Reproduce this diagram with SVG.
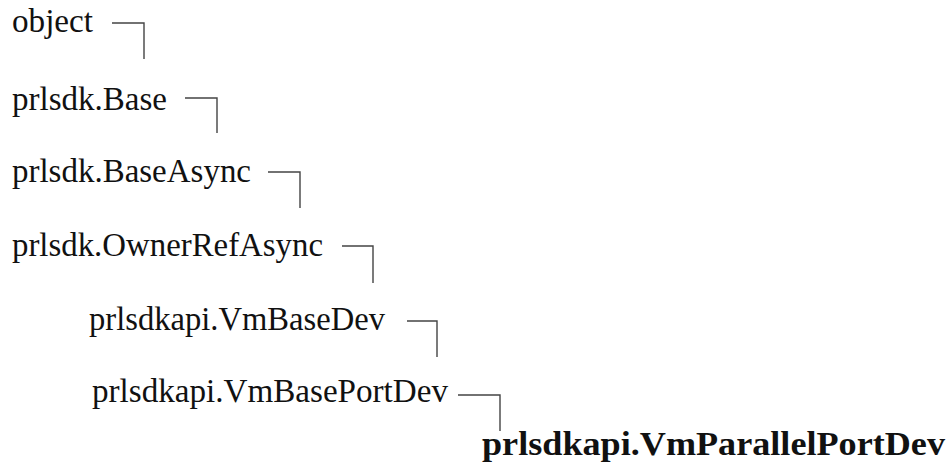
<svg xmlns="http://www.w3.org/2000/svg" width="948" height="466" viewBox="0 0 948 466">
<style>
.t{font-family:"Liberation Serif","Times New Roman",serif;font-size:33px;fill:#111}
.b{font-weight:bold}
.c{fill:none;stroke:#444;stroke-width:1.4}
</style>
<rect width="948" height="466" fill="#fff"/>
<g id="n-object"><text class="t" x="12" y="32" textLength="81" lengthAdjust="spacingAndGlyphs">object</text></g>
<g id="n-base"><text class="t" x="12" y="110" textLength="155" lengthAdjust="spacingAndGlyphs">prlsdk.Base</text></g>
<g id="n-baseasync"><text class="t" x="12" y="182" textLength="239" lengthAdjust="spacingAndGlyphs">prlsdk.BaseAsync</text></g>
<g id="n-ownerrefasync"><text class="t" x="12" y="256" textLength="311" lengthAdjust="spacingAndGlyphs">prlsdk.OwnerRefAsync</text></g>
<g id="n-vmbasedev"><text class="t" x="89" y="330" textLength="296" lengthAdjust="spacingAndGlyphs">prlsdkapi.VmBaseDev</text></g>
<g id="n-vmbaseportdev"><text class="t" x="92" y="402" textLength="356" lengthAdjust="spacingAndGlyphs">prlsdkapi.VmBasePortDev</text></g>
<g id="n-vmparallelportdev"><text class="t b" x="482" y="455" textLength="463" lengthAdjust="spacingAndGlyphs">prlsdkapi.VmParallelPortDev</text></g>
<g id="connectors">
<path class="c" d="M112 23H144V59"/>
<path class="c" d="M185 98H217V133"/>
<path class="c" d="M268 172H300V208"/>
<path class="c" d="M342 246H373V283"/>
<path class="c" d="M407 321H437V357"/>
<path class="c" d="M458 395H500V431"/>
</g>
</svg>
